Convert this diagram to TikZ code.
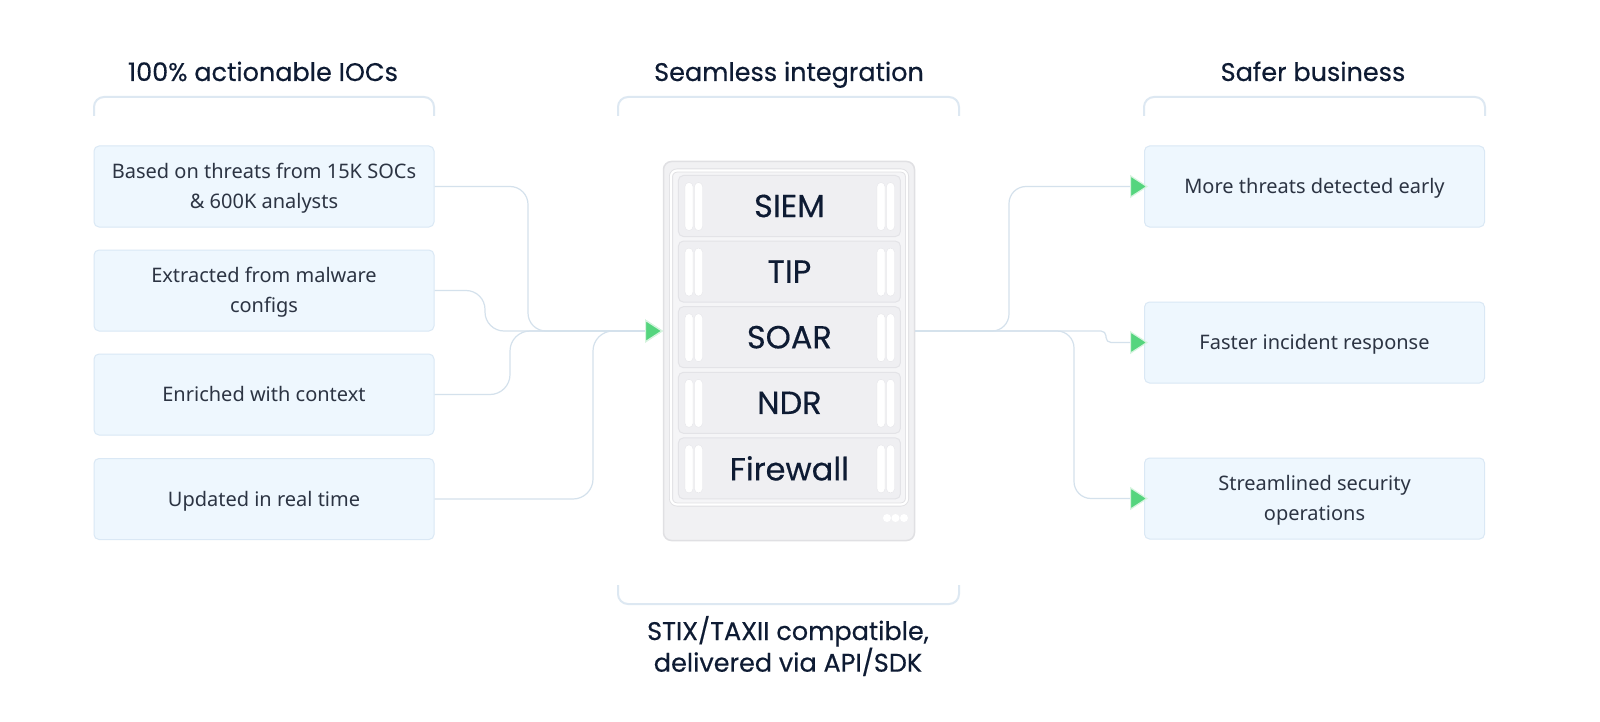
\documentclass[tikz,border=0pt]{standalone}
\usepackage{fontspec}
\setmainfont{Noto Sans}
\newfontfamily\headfont[FakeBold=0.4]{Poppins}
\usetikzlibrary{arrows.meta}
\definecolor{headtext}{HTML}{0E1B33}
\definecolor{bodytext}{HTML}{2C3443}
\definecolor{boxfill}{HTML}{EEF7FE}
\definecolor{boxline}{HTML}{DAE8F5}
\definecolor{brkline}{HTML}{DDE8F2}
\definecolor{connline}{HTML}{D4E1EC}
\definecolor{srvfill}{HTML}{F1F1F3}
\definecolor{srvline}{HTML}{E0E0E3}
\definecolor{innerfill}{HTML}{F5F5F7}
\definecolor{slotfill}{HTML}{EFEFF2}
\definecolor{slotline}{HTML}{E3E3E7}
\definecolor{arrowgreen}{HTML}{55D57E}
\definecolor{arrowhalo}{HTML}{D6F4DF}
\newcommand\mybody{\fontsize{20}{30.5}\selectfont}
\tikzset{
  lbox/.style={draw=boxline, fill=boxfill, rounded corners=5pt, minimum width=340pt,
    minimum height=81pt, line width=1pt, font=\mybody, text=bodytext, align=center, inner sep=0pt,
    text height=14.3pt, text depth=0pt},
  lboxtwo/.style={lbox, text height=44.8pt},
  hdr/.style={font=\headfont\fontsize{25.5}{30}\selectfont, text=headtext, anchor=base},
  slotbox/.style={draw=slotline, fill=slotfill, rounded corners=5pt, minimum width=222pt,
    minimum height=61pt, line width=1pt, font=\headfont\fontsize{32}{38}\selectfont, text=headtext, inner sep=0pt},
  conn/.style={draw=connline, line width=1.2pt, rounded corners=18pt},
  greentip/.style={-{Triangle[length=18pt,width=23pt,fill=arrowgreen,color=arrowhalo,line width=1.2pt]}},
  brk/.style={draw=brkline, line width=2pt, rounded corners=10pt},
  bar/.style={fill=white, draw=slotline, line width=0.3pt, rounded corners=4pt}
}
\begin{document}
\begin{tikzpicture}[x=1pt,y=-1pt]
\useasboundingbox (0,0) rectangle (1600,722);
\fill[white] (0,0) rectangle (1600,722);

% headings
\node[hdr] (h1) at (263,81) {100\% actionable IOCs};
\node[hdr] (h2) at (789,81) {Seamless integration};
\node[hdr] (h3) at (1313,81) {Safer business};

% brackets
\draw[brk] (94,116) -- (94,97) -- (434,97) -- (434,116);
\draw[brk] (618,116) -- (618,97) -- (959,97) -- (959,116);
\draw[brk] (1144,116) -- (1144,97) -- (1485,97) -- (1485,116);
\draw[brk] (618,585) -- (618,604) -- (959,604) -- (959,585);

% left boxes
\node[lboxtwo] (L1) at (264,186.5) {Based on threats from 15K SOCs\\\& 600K analysts};
\node[lboxtwo] (L2) at (264,290.5) {Extracted from malware\\configs};
\node[lbox] (L3) at (264,394.5) {Enriched with context};
\node[lbox] (L4) at (264,499) {Updated in real time};

% right boxes
\node[lbox] (R1) at (1314.5,186.5) {More threats detected early};
\node[lbox] (R2) at (1314.5,342.5) {Faster incident response};
\node[lboxtwo] (R3) at (1314.5,498.5) {Streamlined security\\operations};

% server
\draw[fill=srvfill, draw=srvline, line width=1.5pt, rounded corners=8pt] (663.5,161.5) rectangle (914.5,540.5);
\draw[fill=innerfill, draw=srvline, line width=4pt, rounded corners=6pt] (671,170.5) rectangle (907,504.5);
\draw[draw=white, line width=2.2pt, rounded corners=6pt] (671,170.5) rectangle (907,504.5);
\node[slotbox] (s1) at (789.4,206) {SIEM};
\node[slotbox] (s2) at (789.4,271.6) {TIP};
\node[slotbox] (s3) at (789.4,337.2) {SOAR};
\node[slotbox] (s4) at (789.4,402.8) {NDR};
\node[slotbox] (s5) at (789.4,468.4) {Firewall};
\foreach \yy in {206,271.6,337.2,402.8,468.4}{
  \draw[bar] (685,\yy-23.5) rectangle (693,\yy+24.5);
  \draw[bar] (694.5,\yy-23.5) rectangle (702.5,\yy+24.5);
  \draw[bar] (877,\yy-23.5) rectangle (885,\yy+24.5);
  \draw[bar] (886.5,\yy-23.5) rectangle (894.5,\yy+24.5);
}
\foreach \xx in {887,895.5,904}{\fill[white] (\xx,518) circle (4pt);}

\coordinate (inL) at (663,331);
\coordinate (outR) at (915,331);

% left connectors
\draw[conn, greentip] (L1.east) -- (528,186.5) -- (528,331) -- (inL);
\draw[conn, rounded corners=19pt, greentip] (L2.east) -- (485,290.5) -- (485,331) -- (inL);
\draw[conn, rounded corners=20pt, greentip] (L3.east) -- (510,394.5) -- (510,331) -- (inL);
\draw[conn, rounded corners=20pt, greentip] (L4.east) -- (593,499) -- (593,331) -- (inL);

% right connectors
\draw[conn, rounded corners=17pt, greentip, shorten >=-4pt] (outR) -- (1009,331) -- (1009,186.5) -- (R1.west);
\draw[conn, rounded corners=5pt, greentip, shorten >=-4pt] (outR) -- (1106,331) -- (1106,342.5) -- (R2.west);
\draw[conn, rounded corners=17pt, greentip, shorten >=-4pt] (outR) -- (1074,331) -- (1074,498.5) -- (R3.west);

% bottom text
\node[font=\headfont\fontsize{25.5}{30}\selectfont, text=headtext, align=center] (foot) at (788,646) {STIX/TAXII compatible,\\ delivered via API/SDK};
\end{tikzpicture}
\end{document}
